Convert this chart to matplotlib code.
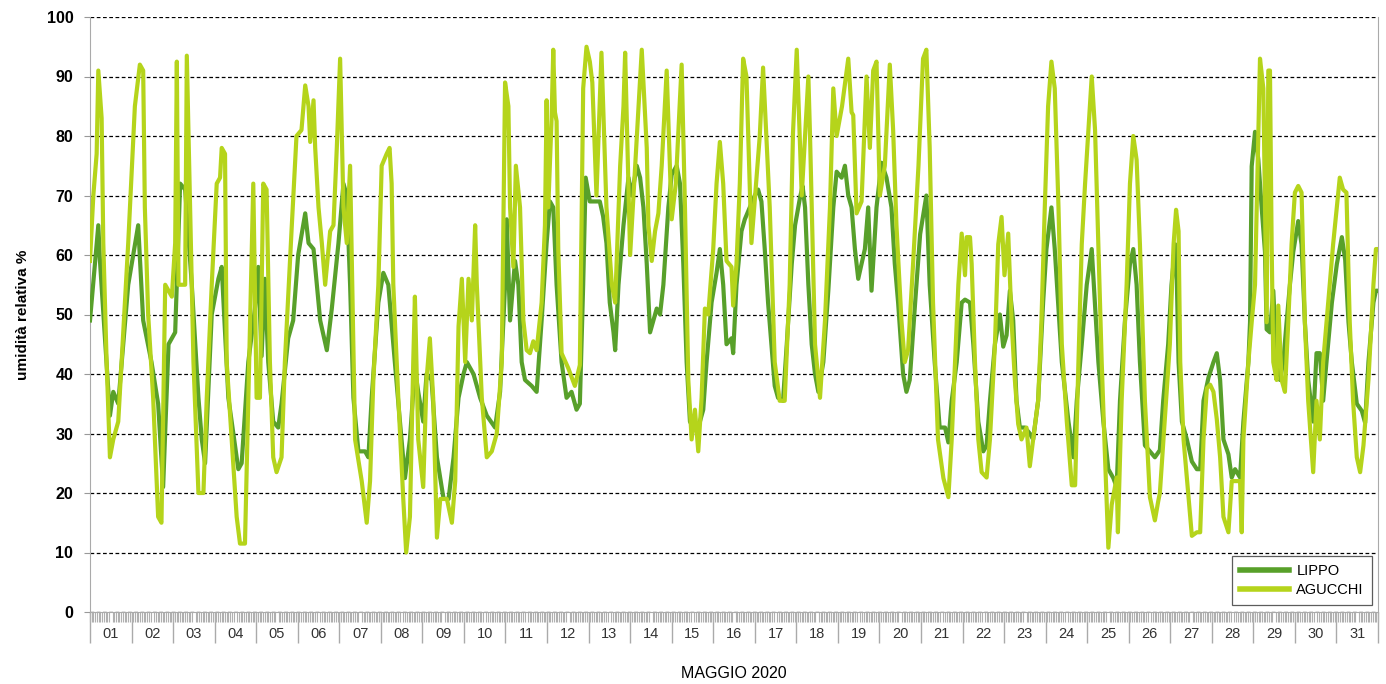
import numpy as np
import matplotlib
matplotlib.use("Agg")
import matplotlib.pyplot as plt
from matplotlib.ticker import FixedLocator, NullFormatter

# umidita relativa (%), maggio 2020 -- (giorno decimale, valore)
lippo = [
    (0.00, 49), (0.20, 65), (0.24, 59), (0.48, 33), (0.56, 37), (0.68, 35), (0.92, 55), (1.16, 65),
    (1.28, 49), (1.48, 42), (1.64, 35), (1.76, 21), (1.89, 45), (2.05, 47), (2.17, 72), (2.29, 71),
    (2.45, 55), (2.61, 36), (2.69, 29), (2.77, 25), (2.93, 50), (3.09, 56), (3.17, 58), (3.33, 36),
    (3.57, 24), (3.65, 25), (3.81, 42), (3.97, 51), (4.05, 58), (4.13, 43), (4.21, 56), (4.29, 42),
    (4.41, 32), (4.53, 31), (4.61, 35), (4.77, 46), (4.89, 49), (5.01, 60), (5.18, 67), (5.26, 62),
    (5.38, 61), (5.46, 55), (5.54, 49), (5.70, 44), (5.82, 51), (5.98, 62), (6.10, 72), (6.18, 70),
    (6.26, 55), (6.34, 36), (6.46, 27), (6.62, 27), (6.70, 26), (6.78, 36), (6.94, 52), (7.06, 57),
    (7.18, 55), (7.30, 45), (7.46, 32), (7.58, 22.5), (7.70, 29), (7.82, 41), (7.90, 37), (8.02, 32),
    (8.10, 40), (8.22, 39), (8.35, 26), (8.51, 19), (8.63, 19), (8.75, 26), (8.87, 36), (8.99, 40),
    (9.07, 42), (9.23, 40), (9.39, 36), (9.55, 33), (9.75, 31), (9.87, 37), (9.99, 55), (10.03, 66),
    (10.11, 49), (10.23, 59), (10.31, 55), (10.39, 42), (10.47, 39), (10.63, 38), (10.75, 37),
    (10.87, 49), (10.99, 62), (11.07, 69), (11.15, 68), (11.23, 55), (11.35, 42), (11.47, 36),
    (11.59, 37), (11.71, 34), (11.79, 35), (11.87, 55), (11.93, 73), (12.03, 69), (12.15, 69),
    (12.27, 69), (12.35, 66.5), (12.43, 62), (12.51, 52), (12.60, 47), (12.64, 44), (12.72, 55),
    (12.84, 65), (12.96, 73), (13.04, 70), (13.16, 75), (13.24, 73), (13.32, 68), (13.40, 58.5),
    (13.48, 47), (13.56, 49), (13.64, 51), (13.72, 50), (13.80, 55), (13.92, 68), (14.00, 73.5),
    (14.12, 75), (14.20, 72), (14.28, 58.5), (14.36, 42), (14.44, 32), (14.52, 31), (14.64, 31),
    (14.76, 34), (14.84, 42), (14.96, 52), (15.08, 57), (15.16, 61), (15.24, 55), (15.32, 45),
    (15.44, 46), (15.48, 43.5), (15.56, 55), (15.68, 64), (15.76, 66), (15.88, 68), (16.00, 70),
    (16.08, 71), (16.16, 69), (16.24, 61), (16.32, 52), (16.40, 45), (16.48, 38), (16.56, 36),
    (16.68, 35.5), (16.77, 45), (16.89, 58.5), (16.97, 65), (17.09, 69.7), (17.15, 71.6),
    (17.21, 68), (17.29, 55), (17.37, 45), (17.45, 40), (17.53, 37), (17.65, 42), (17.77, 54),
    (17.89, 68), (17.97, 74), (18.09, 73), (18.17, 75), (18.25, 70), (18.33, 68), (18.41, 61),
    (18.49, 56), (18.57, 58.5), (18.65, 61), (18.73, 68), (18.77, 61), (18.81, 54), (18.93, 68),
    (19.05, 75.5), (19.17, 73), (19.29, 68), (19.37, 58.5), (19.45, 52), (19.57, 40), (19.65, 37),
    (19.73, 39), (19.86, 52), (19.98, 63.5), (20.13, 70), (20.21, 55), (20.33, 42), (20.45, 31),
    (20.58, 31), (20.66, 28.5), (20.74, 35.5), (20.86, 42), (20.98, 52), (21.06, 52.5), (21.18, 52),
    (21.26, 45), (21.38, 32), (21.50, 27), (21.58, 28), (21.66, 35.5), (21.78, 45), (21.90, 50),
    (21.98, 44.6), (22.06, 46.5), (22.14, 54), (22.22, 49), (22.30, 35.5), (22.38, 31), (22.50, 31),
    (22.62, 30), (22.70, 29), (22.82, 35.5), (22.94, 52), (23.02, 61), (23.14, 68), (23.22, 61),
    (23.30, 52), (23.39, 42), (23.55, 32), (23.67, 26), (23.75, 35.5), (23.87, 45), (23.99, 55),
    (24.11, 61), (24.27, 42), (24.39, 32), (24.51, 24), (24.63, 22.5), (24.71, 21), (24.79, 35.5),
    (24.91, 49), (25.03, 58.5), (25.11, 61), (25.19, 55), (25.27, 42), (25.39, 28), (25.51, 27),
    (25.63, 26), (25.75, 27.2), (25.83, 35.5), (25.95, 45), (26.03, 55), (26.12, 61.8), (26.16, 55),
    (26.20, 42), (26.28, 32), (26.40, 29), (26.52, 25.3), (26.64, 24), (26.72, 24), (26.80, 35.5),
    (26.92, 39.4), (27.04, 42), (27.12, 43.5), (27.20, 39), (27.28, 29), (27.40, 26.5), (27.48, 22.6),
    (27.56, 24), (27.68, 22.6), (27.76, 32), (27.88, 42), (27.92, 48.7), (27.96, 74.9), (28.04, 80.7),
    (28.12, 76), (28.20, 68), (28.28, 60.5), (28.32, 47.5), (28.40, 47), (28.48, 54), (28.56, 42),
    (28.64, 39), (28.72, 42), (28.80, 48.7), (28.88, 55), (28.96, 60.5), (29.08, 65.7), (29.16, 61.8),
    (29.24, 48.7), (29.32, 39), (29.44, 32), (29.52, 43.5), (29.60, 43.5), (29.68, 35.5), (29.76, 42),
    (29.89, 52), (30.01, 58.5), (30.13, 63), (30.21, 59.2), (30.29, 48.7), (30.37, 42), (30.49, 35),
    (30.61, 33.8), (30.69, 31.8), (30.77, 42), (30.89, 52), (30.95, 54), (31.00, 54),
]

agucchi = [
    (0.00, 59), (0.08, 70), (0.16, 77), (0.20, 91), (0.28, 83), (0.32, 62), (0.40, 42), (0.48, 26),
    (0.56, 29), (0.68, 32), (0.76, 42), (0.92, 62), (1.08, 85), (1.20, 92), (1.28, 91), (1.32, 68),
    (1.40, 50), (1.52, 36), (1.64, 16), (1.72, 15), (1.81, 55), (1.97, 53), (2.05, 62), (2.09, 92.5),
    (2.13, 55), (2.29, 55), (2.33, 93.5), (2.41, 68), (2.49, 42), (2.61, 20), (2.73, 20), (2.81, 36),
    (2.93, 55), (3.05, 72), (3.13, 73), (3.17, 78), (3.25, 77), (3.29, 42), (3.41, 29), (3.53, 16),
    (3.61, 11.5), (3.73, 11.5), (3.81, 36), (3.93, 72), (4.01, 36), (4.09, 36), (4.17, 72), (4.25, 71),
    (4.33, 42), (4.41, 26), (4.49, 23.5), (4.61, 26), (4.69, 42), (4.85, 64), (4.97, 80), (5.09, 81),
    (5.18, 88.5), (5.26, 85), (5.30, 79), (5.38, 86), (5.42, 78), (5.50, 68), (5.58, 62), (5.66, 55),
    (5.78, 64), (5.86, 65), (5.94, 78), (6.02, 93), (6.10, 68), (6.18, 62), (6.26, 75), (6.38, 29),
    (6.54, 22), (6.66, 15), (6.74, 22), (6.82, 39), (6.94, 55), (7.02, 75), (7.14, 77), (7.21, 78),
    (7.26, 72), (7.30, 55), (7.42, 36), (7.54, 19), (7.61, 10), (7.70, 16), (7.78, 42), (7.82, 53),
    (7.90, 29), (8.02, 21), (8.10, 39), (8.18, 46), (8.26, 36), (8.35, 12.5), (8.43, 19), (8.59, 19),
    (8.71, 15), (8.79, 22), (8.87, 48), (8.95, 56), (9.03, 42), (9.11, 56), (9.19, 49), (9.27, 65),
    (9.31, 55), (9.43, 36), (9.55, 26), (9.67, 27), (9.79, 30), (9.91, 42), (9.99, 89), (10.07, 85),
    (10.11, 68), (10.19, 58), (10.25, 75), (10.35, 68), (10.43, 49), (10.51, 44), (10.59, 43.5),
    (10.67, 45.5), (10.75, 44), (10.87, 52), (10.95, 65), (10.99, 86), (11.03, 68), (11.11, 83),
    (11.15, 94.5), (11.19, 84), (11.23, 82.5), (11.27, 61), (11.35, 43.5), (11.51, 41), (11.67, 38),
    (11.79, 41.5), (11.87, 88), (11.95, 95), (12.03, 92.5), (12.09, 89), (12.19, 70), (12.31, 94),
    (12.43, 68), (12.56, 55), (12.64, 52), (12.76, 75), (12.84, 85), (12.88, 94), (13.00, 60),
    (13.28, 94.5), (13.40, 78), (13.44, 65), (13.52, 59), (13.60, 64), (13.68, 67), (13.76, 75),
    (13.88, 91), (14.00, 66), (14.10, 72), (14.24, 92), (14.32, 68), (14.40, 39), (14.48, 29),
    (14.56, 34), (14.64, 27), (14.72, 36), (14.80, 51), (14.88, 50), (15.00, 61), (15.08, 72),
    (15.16, 79), (15.24, 72), (15.32, 59), (15.44, 58), (15.48, 51.5), (15.56, 58.5), (15.64, 72),
    (15.72, 93), (15.80, 90), (15.92, 62), (16.12, 80), (16.20, 91.5), (16.36, 68), (16.48, 42),
    (16.60, 35.5), (16.72, 35.5), (16.84, 55), (16.92, 80.5), (17.01, 94.5), (17.13, 70), (17.29, 90),
    (17.33, 80), (17.45, 45), (17.57, 36), (17.69, 49), (17.81, 68), (17.89, 88), (17.97, 80),
    (18.10, 85), (18.25, 93), (18.33, 84), (18.37, 83.5), (18.45, 67), (18.57, 69), (18.69, 90),
    (18.77, 78), (18.85, 91), (18.93, 92.5), (19.01, 70), (19.13, 75), (19.25, 92), (19.33, 81),
    (19.41, 65), (19.53, 49), (19.61, 42), (19.69, 44), (19.81, 58.5), (19.94, 75), (20.05, 93),
    (20.13, 94.5), (20.21, 78), (20.29, 52), (20.41, 29), (20.54, 22.5), (20.66, 19.3), (20.74, 29),
    (20.82, 42), (20.90, 55), (20.98, 63.6), (21.06, 56.6), (21.10, 63), (21.18, 63), (21.22, 58.5),
    (21.30, 42), (21.38, 29), (21.46, 23.5), (21.58, 22.6), (21.66, 29), (21.78, 45), (21.86, 61.8),
    (21.94, 66.4), (22.01, 56.6), (22.10, 63.6), (22.18, 49), (22.26, 39), (22.34, 31.6), (22.42, 29),
    (22.54, 31), (22.62, 24.5), (22.70, 29), (22.82, 35.5), (22.90, 49), (22.98, 68), (23.06, 85),
    (23.14, 92.5), (23.22, 88), (23.31, 68), (23.39, 45), (23.51, 32), (23.63, 21.3), (23.71, 21.3),
    (23.79, 42), (23.87, 61.8), (23.95, 72), (24.03, 81), (24.11, 90), (24.19, 81), (24.27, 61.8),
    (24.35, 42), (24.43, 26), (24.51, 10.8), (24.59, 18), (24.71, 22.6), (24.74, 13.4), (24.83, 35.5),
    (24.95, 55), (25.03, 72), (25.11, 80), (25.19, 76), (25.27, 61.8), (25.39, 35.5), (25.51, 19.3),
    (25.63, 15.4), (25.71, 18.6), (25.75, 20), (25.87, 32.4), (25.99, 45), (26.08, 61.8), (26.14, 67.6),
    (26.20, 64), (26.24, 42), (26.32, 29), (26.44, 19.3), (26.52, 12.8), (26.64, 13.4), (26.72, 13.4),
    (26.80, 29), (26.88, 37.6), (26.96, 38.2), (27.04, 37), (27.12, 32.4), (27.20, 26), (27.28, 16),
    (27.40, 13.4), (27.48, 22), (27.68, 22), (27.72, 13.4), (27.76, 29), (27.88, 42), (27.96, 48.7),
    (28.04, 55), (28.16, 93), (28.24, 88), (28.28, 68), (28.32, 48.7), (28.36, 91), (28.40, 91),
    (28.44, 61.8), (28.48, 42), (28.56, 39), (28.60, 51.5), (28.68, 39), (28.76, 37), (28.84, 48.7),
    (28.92, 61.8), (29.00, 70.5), (29.08, 71.6), (29.16, 70.5), (29.24, 48.7), (29.32, 35.5),
    (29.44, 23.5), (29.52, 35.5), (29.60, 29), (29.68, 42), (29.80, 52), (29.92, 61.8), (30.08, 73),
    (30.16, 71), (30.24, 70.5), (30.32, 48.7), (30.40, 35.5), (30.49, 26), (30.57, 23.5), (30.65, 28),
    (30.77, 39), (30.89, 55), (30.95, 61), (31.00, 61),
]

giorni = [f"{d:02d}" for d in range(1, 32)]
yticks = list(range(0, 101, 10))

plt.rcParams["font.family"] = ["Liberation Sans", "DejaVu Sans"]

fig = plt.figure(figsize=(13.86, 6.84), dpi=100)
ax = fig.add_axes([90 / 1386, 1 - 612 / 684, 1288 / 1386, 595 / 684])

t_l, v_l = zip(*lippo)
t_a, v_a = zip(*agucchi)
ax.plot(t_l, v_l, color="#58a02a", lw=3.0, label="LIPPO", zorder=3)
ax.plot(t_a, v_a, color="#b5d41b", lw=3.0, label="AGUCCHI", zorder=4)

ax.set_xlim(0, 31)
ax.set_ylim(0, 100)
ax.set_yticks(yticks)
ax.set_yticklabels([str(v) for v in yticks], fontsize=11.5, fontweight="bold")
ax.tick_params(axis="y", length=4, color="#999999", pad=8)
ax.yaxis.grid(True, color="black", lw=0.9, ls=(0, (3, 2)))
ax.set_axisbelow(True)

# etichette dei giorni al centro, tacche orarie come minor
ax.set_xticks(np.arange(31) + 0.5)
ax.set_xticklabels(giorni, fontsize=10.5, color="#333333")
ax.tick_params(axis="x", which="major", length=0, pad=11)
ax.xaxis.set_minor_locator(FixedLocator(np.arange(0, 31 * 24 + 1) / 24))
ax.tick_params(axis="x", which="minor", length=7, color="#b0b0b0", width=0.8)

# separatori dei giorni: tacche lunghe grigie
sec = ax.secondary_xaxis("bottom")
sec.set_xticks(np.arange(32))
sec.xaxis.set_major_formatter(NullFormatter())
sec.tick_params(axis="x", length=22, color="#aaaaaa", width=1)
sec.spines["bottom"].set_visible(False)

for s in ["left", "right", "bottom"]:
    ax.spines[s].set_color("#aaaaaa")
ax.spines["top"].set_visible(False)

ax.set_ylabel("umidità relativa %", fontsize=11, fontweight="bold", labelpad=12)
ax.set_xlabel("MAGGIO 2020", fontsize=11.5, labelpad=18)

leg = ax.legend(loc="lower right", bbox_to_anchor=(0.9953, 0.012), borderaxespad=0,
                fontsize=10.5, frameon=True, fancybox=False, edgecolor="#333333",
                borderpad=0.55, handlelength=3.4, labelspacing=0.3, handletextpad=0.5)
leg.get_frame().set_linewidth(0.9)
for line in leg.get_lines():
    line.set_linewidth(4)

fig.savefig("out.png", dpi=100)
